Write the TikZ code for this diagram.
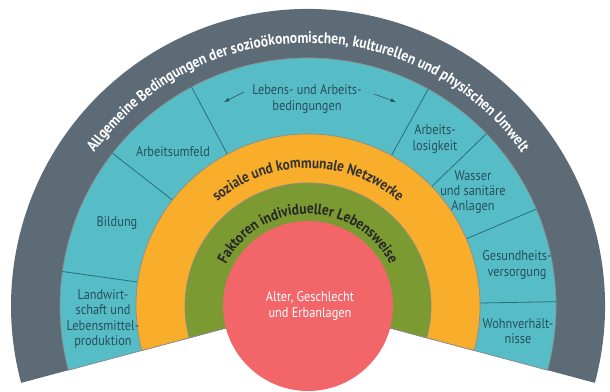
\documentclass[tikz,border=0pt]{standalone}
\usepackage{fontspec}
\setmainfont[FakeStretch=0.88]{PT Sans}
\usetikzlibrary{decorations.text}
\definecolor{umwelt}{HTML}{5D6B77}
\definecolor{bedingung}{HTML}{56BCC6}
\definecolor{netzwerk}{HTML}{F8AD2B}
\definecolor{lebensweise}{HTML}{7B9A32}
\definecolor{kern}{HTML}{F2666A}
\definecolor{feldtext}{HTML}{27505C}
\definecolor{trennlinie}{HTML}{2D6E78}
\tikzset{
  ring/.style={draw=black!45, line width=0.5pt},
  feld/.style={text=feldtext, align=center, font=\fontsize{10.5}{11.5}\selectfont},
  trenn/.style={draw=trennlinie, line width=0.6pt},
}
\begin{document}
\begin{tikzpicture}[x=0.75pt,y=0.75pt]
	\useasboundingbox (-308,-86) rectangle (302,306);
	\fill[umwelt] (0,0)--(-15:297) arc (-15:195:297)--cycle;
	\filldraw[bedingung, ring] (0,0)--(-15:248) arc (-15:195:248)--cycle;
	\draw[trenn] (172:172)--(172:248);
	\draw[trenn] (142:172)--(142:248);
	\draw[trenn] (118:172)--(118:248);
	\draw[trenn] (61:172)--(61:248);
	\draw[trenn] (44:172)--(44:248);
	\draw[trenn] (23:172)--(23:248);
	\draw[trenn] (1:172)--(1:248);
	\filldraw[netzwerk, ring] (0,0)--(-15:172) arc (-15:195:172)--cycle;
	\filldraw[lebensweise, ring] (0,0)--(-15:123) arc (-15:195:123)--cycle;
	\fill[kern] (0,0) circle (85);
	\path[decorate, decoration={text along path, text align=center,
		text={|\color{white}\bfseries\fontsize{11.6}{13}\selectfont|Allgemeine Bedingungen der sozioökonomischen, kulturellen und physischen Umwelt}}]
		(180:263) arc (180:0:263);
	\path[decorate, decoration={text along path, text align=center,
		text={|\color{black!80}\bfseries\fontsize{11.3}{13}\selectfont|soziale und kommunale Netzwerke}}]
		(180:138) arc (180:0:138);
	\path[decorate, decoration={text along path, text align=center,
		text={|\color{black!85}\bfseries\fontsize{11.4}{13}\selectfont|Faktoren individueller Lebensweise}}]
		(180:92) arc (180:0:92);
	\node[feld] (landwirtschaft) at (-205,-13) {Landwirt-\\schaft und\\Lebensmittel-\\produktion};
	\node[feld] (bildung) at (-191,83) {Bildung};
	\node[feld] (arbeitsumfeld) at (-135,154) {Arbeitsumfeld};
	\node[feld] (lebens) at (-1,207) {Lebens- und Arbeits-\\bedingungen};
	\node[feld] (arbeitslos) at (127,167) {Arbeits-\\losigkeit};
	\node[feld] (wasser) at (165,114) {Wasser\\und sanitäre\\Anlagen};
	\node[feld] (gesundheit) at (209,41) {Gesundheits-\\versorgung};
	\node[feld] (wohnen) at (210,-25) {Wohnverhält-\\nisse};
	\node[white, align=center, font=\fontsize{10.5}{12}\selectfont] (alter) at (2,0) {Alter, Geschlecht\\und Erbanlagen};
	\coordinate (linksA) at (-64,214);
	\coordinate (linksB) at (-84,204);
	\coordinate (rechtsA) at (66,212);
	\coordinate (rechtsB) at (88,204);
	\draw[-latex, feldtext] (linksA)--(linksB);
	\draw[-latex, feldtext] (rechtsA)--(rechtsB);
\end{tikzpicture}
\end{document}
